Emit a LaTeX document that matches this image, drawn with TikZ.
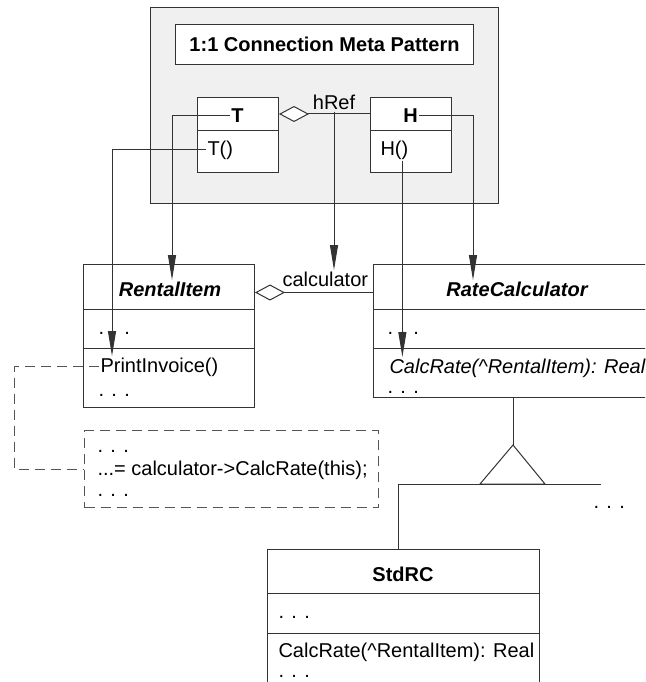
\documentclass[tikz,border=0pt]{standalone}
\usepackage{fontspec}
\setmainfont{Liberation Sans}
\usetikzlibrary{positioning, arrows.meta}
\definecolor{PatternGray}{HTML}{F0F0F0}
\definecolor{LineDark}{HTML}{333333}
\definecolor{NoteGray}{HTML}{555555}

\begin{document}
\begin{tikzpicture}[x=1pt, y=-1pt, line width=1pt,
    every node/.style={font=\fontsize{20}{24}\selectfont, inner sep=1pt},
    compart/.style 2 args={draw=LineDark, fill=white, anchor=north west,
        minimum width=#1, minimum height=#2, inner sep=0pt},
    txt/.style={anchor=base west},
    cname/.style={anchor=base, font=\fontsize{20}{24}\selectfont\bfseries},
    cnameit/.style={anchor=base, font=\fontsize{20}{24}\selectfont\bfseries\itshape},
    arr/.style={-{Triangle[length=25pt, width=8pt]}, LineDark},
    aggr/.style={{Diamond[fill=white, length=30pt, width=16pt]}-, LineDark},
    noteline/.style={NoteGray, dash pattern=on 10pt off 6pt}]
    \useasboundingbox (0,0) rectangle (645,682);
    \clip (0,0) rectangle (645,682);

    % Meta pattern
    \node[compart={348}{196}, fill=PatternGray] (meta) at (150,7) {};
    \node[compart={298}{40}, font=\fontsize{20}{24}\selectfont\bfseries] (title) at (175,24) {1:1 Connection Meta Pattern};

    \node[compart={81}{33}] (Thead) at (197,97) {};
    \node[compart={81}{42}] (Tbody) at (197,130) {};
    \node[cname] (Tname) at (237.5,122) {T};
    \node[txt] (Tcons) at (206,155) {T()};

    \node[compart={81}{33}] (Hhead) at (370,97) {};
    \node[compart={81}{42}] (Hbody) at (370,130) {};
    \node[cname] (Hname) at (410.5,122) {H};
    \node[txt] (Hcons) at (379,155) {H()};

    \draw[aggr] (Thead.east) -- (Hhead.west);
    \node[anchor=base] (href) at (334,110) {hRef};

    % RentalItem
    \node[compart={171}{45}] (RIhead) at (83,264) {};
    \node[compart={171}{39}] (RIattr) at (83,309) {};
    \node[compart={171}{59}] (RIops) at (83,348) {};
    \node[cnameit] (RIname) at (170,296) {RentalItem};
    \node[txt] (RIdots) at (97,334) {. . .};
    \node[txt] (PrintInv) at (99,372) {PrintInvoice()};
    \node[txt] (RIopsdots) at (97,396) {. . .};

    % RateCalculator
    \node[compart={300}{45}] (RChead) at (373,264) {};
    \node[compart={300}{39}] (RCattr) at (373,309) {};
    \node[compart={300}{49}] (RCops) at (373,348) {};
    \node[cnameit] (RCname) at (517,296) {RateCalculator};
    \node[txt] (RCdots) at (386,334) {. . .};
    \node[txt, font=\fontsize{20}{24}\selectfont\itshape] (CalcRate) at (388,373) {CalcRate(\textasciicircum RentalItem): Real};
    \node[txt] (RCopsdots) at (386,393) {. . .};

    \draw[aggr] ([yshift=-5.5pt]RIhead.east) -- ([yshift=-5.5pt]RChead.west);
    \node[txt] (calc) at (281,286) {calculator};

    % Mapping arrows
    \draw[arr] (Tname.west) -| ([xshift=2pt]RIname.north);
    \draw[arr] (Tcons.west) -| ([xshift=13pt]PrintInv.north west);
    \draw[arr] (href.south) -- (href.south |- calc.north);
    \draw[arr] (Hname.east) -| ([xshift=-44pt]RCname.north);
    \draw[arr] ([xshift=8pt]Hcons.south) -- ([xshift=8pt]Hcons.south |- CalcRate.north);

    % Code note
    \node[compart={294}{77}, fill=none, draw=NoteGray, dash pattern=on 10pt off 6pt] (note) at (84,430) {};
    \node[txt] (n1) at (96,452) {. . .};
    \node[txt] (n2) at (96,475) {...= calculator->CalcRate(this);};
    \node[txt] (n3) at (96,496) {. . .};
    \draw[noteline] (PrintInv.west) -- ++(-85,0) |- (note.west);

    % Inheritance
    \coordinate (apex) at (513,445);
    \coordinate (genL) at (398,484);
    \coordinate (genR) at (601,484);
    \draw[LineDark] (RCops.south -| apex) -- (apex);
    \draw[LineDark] (apex) -- (480,484) -- (545,484) -- cycle;
    \draw[LineDark] (genL) -- (genR);
    \node[txt] (moredots) at (592,508) {. . .};

    % StdRC
    \node[compart={272}{44}] (Stdhead) at (267,549) {};
    \node[compart={272}{40}] (Stdattr) at (267,593) {};
    \node[compart={272}{80}] (Stdops) at (267,633) {};
    \node[cname] (Stdname) at (403,581) {StdRC};
    \node[txt] (Stddots) at (277,618) {. . .};
    \node[txt] (StdCalc) at (277,657) {CalcRate(\textasciicircum RentalItem): Real};
    \node[txt] (Stdopsdots) at (277,677) {. . .};
    \draw[LineDark] (genL) -- (genL |- Stdhead.north);
\end{tikzpicture}
\end{document}
